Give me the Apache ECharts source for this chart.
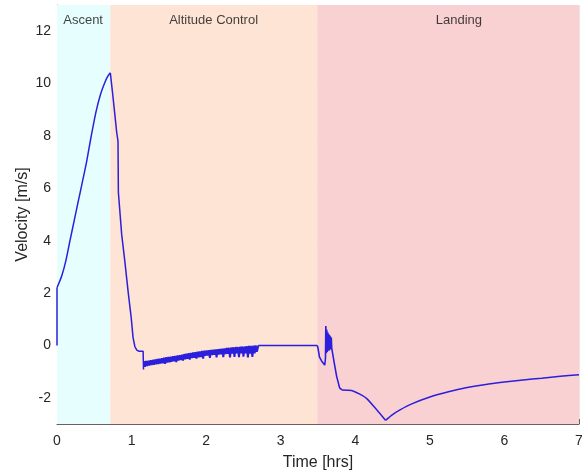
<!DOCTYPE html>
<html>
<head>
<meta charset="utf-8">
<script src="https://cdn.jsdelivr.net/npm/echarts@6/dist/echarts.min.js"></script>
<style>html,body{margin:0;padding:0;background:#fff;overflow:hidden}#c{width:582px;height:474px}</style>
</head>
<body>
<div id="c"></div>
<script>
// ---- data ----
const xTicks = [0, 1, 2, 3, 4, 5, 6, 7];
const yTicks = [-2, 0, 2, 4, 6, 8, 10, 12];

const phaseNames = ['Ascent', 'Altitude Control', 'Landing'];
const phaseStart = [0, 0.715, 3.49];
const phaseEnd = [0.715, 3.49, 7];
const phaseLabelT = [0.35, 2.1, 5.39];
const phaseLabelV = 12.4;

const launchJump = [[0, 0], [0, 2.2]];
const ascent = [
  [0, 2.2], [0.063, 2.65], [0.12, 3.25], [0.174, 4.0], [0.23, 4.76],
  [0.286, 5.52], [0.33, 6.1], [0.40, 7.06], [0.456, 7.95], [0.523, 8.92],
  [0.585, 9.6], [0.643, 10.05], [0.68, 10.27], [0.715, 10.41]
];
const descent = [
  [0.715, 10.41], [0.746, 9.62], [0.78, 8.7], [0.80, 8.15], [0.818, 7.8], [0.823, 5.85],
  [0.867, 4.25], [0.91, 3.2], [0.956, 2.0], [0.995, 1.06], [1.02, 0.3], [1.045, -0.05],
  [1.07, -0.18], [1.1, -0.22], [1.155, -0.22], [1.16, -0.92]
];
const hoverBand = [
  [1.165, -0.60], [1.18, -0.82], [1.195, -0.59], [1.21, -0.79], [1.225, -0.58], [1.24, -0.77],
  [1.255, -0.56], [1.27, -0.75], [1.285, -0.55], [1.30, -0.74], [1.315, -0.54], [1.33, -0.72],
  [1.345, -0.52], [1.36, -0.71], [1.375, -0.51], [1.39, -0.69], [1.405, -0.49], [1.42, -0.68],
  [1.435, -0.47], [1.45, -0.70], [1.465, -0.45], [1.48, -0.65], [1.495, -0.44], [1.51, -0.64],
  [1.525, -0.43], [1.54, -0.62], [1.555, -0.41], [1.57, -0.61], [1.585, -0.40], [1.60, -0.64],
  [1.615, -0.38], [1.63, -0.58], [1.645, -0.37], [1.66, -0.56], [1.675, -0.35], [1.69, -0.58],
  [1.705, -0.33], [1.72, -0.53], [1.735, -0.32], [1.75, -0.51], [1.765, -0.30], [1.78, -0.54],
  [1.795, -0.29], [1.81, -0.48], [1.825, -0.27], [1.84, -0.47], [1.855, -0.26], [1.87, -0.50],
  [1.885, -0.24], [1.90, -0.45], [1.915, -0.23], [1.93, -0.44], [1.945, -0.21], [1.96, -0.50],
  [1.975, -0.20], [1.99, -0.40], [2.005, -0.19], [2.02, -0.39], [2.035, -0.18], [2.05, -0.47],
  [2.065, -0.17], [2.08, -0.37], [2.095, -0.16], [2.11, -0.36], [2.125, -0.15], [2.14, -0.46],
  [2.155, -0.14], [2.17, -0.35], [2.185, -0.13], [2.20, -0.34], [2.215, -0.12], [2.23, -0.45],
  [2.245, -0.11], [2.26, -0.33], [2.275, -0.10], [2.29, -0.32], [2.305, -0.09], [2.32, -0.46],
  [2.335, -0.08], [2.35, -0.31], [2.365, -0.07], [2.38, -0.44], [2.395, -0.06], [2.41, -0.30],
  [2.425, -0.06], [2.44, -0.45], [2.455, -0.05], [2.47, -0.30], [2.485, -0.04], [2.50, -0.43],
  [2.515, -0.04], [2.53, -0.30], [2.545, -0.03], [2.56, -0.46], [2.575, -0.02], [2.59, -0.31],
  [2.605, -0.02], [2.62, -0.44], [2.635, -0.01], [2.65, -0.30], [2.665, 0.0], [2.68, -0.24],
  [2.70, 0.0]
];
const holdFlat = [[2.70, 0.0], [3.49, 0]];
const landingStart = [
  [3.49, 0], [3.5, -0.1], [3.52, -0.45], [3.55, -0.6], [3.59, -0.75], [3.6, -0.5], [3.605, 0.74],
  [3.612, -0.3], [3.618, 0.6], [3.624, -0.25], [3.63, 0.5], [3.636, -0.2], [3.642, 0.45],
  [3.648, -0.2], [3.654, 0.4], [3.66, -0.15], [3.666, 0.35], [3.672, -0.15], [3.678, 0.3],
  [3.684, -0.1], [3.69, -0.15], [3.72, -0.7], [3.75, -1.18], [3.79, -1.62], [3.82, -1.7]
];
const landingDescent = [
  [3.82, -1.7], [3.95, -1.72], [4.06, -1.86], [4.15, -2.02], [4.285, -2.45], [4.405, -2.86]
];
const landingRecovery = [
  [4.405, -2.86], [4.5, -2.64], [4.6, -2.46], [4.75, -2.24], [5.0, -1.97], [5.25, -1.77],
  [5.5, -1.61], [5.75, -1.49], [6.0, -1.40], [6.25, -1.32], [6.5, -1.25], [6.75, -1.18], [7.0, -1.12]
];

const phaseColors = ['#e6fffe', '#fde4d4', '#f9d1d3'];

// ---- chart ----
const chart = echarts.init(document.getElementById('c'), null, { renderer: 'canvas' });
const textColor = '#262626';
const gridColor = 'rgba(38,38,38,0.11)';
const lineColor = '#2b1fdc';

function velSeries(data, smooth, width) {
  return {
    type: 'line', z: 3, data: data, showSymbol: false, symbol: 'none',
    smooth: smooth ? 0.25 : false,
    lineStyle: { color: lineColor, width: width || 1.5 }, silent: true,
    label: { show: false }, endLabel: { show: false }
  };
}

chart.setOption({
  animation: false,
  backgroundColor: '#ffffff',
  grid: { left: 57, right: 3, top: 5, bottom: 50, containLabel: false, outerBoundsMode: 'none' },
  xAxis: {
    type: 'value', min: 0, max: 7, interval: 1,
    name: 'Time [hrs]', nameLocation: 'middle', nameGap: 31,
    nameTextStyle: { fontFamily: 'Liberation Sans', fontSize: 16, color: textColor },
    axisLine: { show: true, onZero: false, lineStyle: { color: '#6e5e5e', width: 1 } },
    axisTick: { show: true, inside: true, length: 5, lineStyle: { color: '#6e5e5e' } },
    axisLabel: { fontFamily: 'Liberation Sans', fontSize: 14, color: textColor, margin: 10 },
    splitLine: { show: true, lineStyle: { color: gridColor, width: 1 } }
  },
  yAxis: {
    type: 'value', min: -3, max: 13,
    name: 'Velocity [m/s]', nameLocation: 'middle', nameGap: 26, nameMoveOverlap: false,
    nameTextStyle: { fontFamily: 'Liberation Sans', fontSize: 16, color: textColor },
    axisLine: { show: true, onZero: false, lineStyle: { color: '#8a9595', width: 1 } },
    axisTick: { show: true, inside: true, length: 5, customValues: yTicks, lineStyle: { color: '#8a9595' } },
    axisLabel: { fontFamily: 'Liberation Sans', fontSize: 14, color: textColor, margin: 6, customValues: yTicks },
    splitLine: { show: true, lineStyle: { color: gridColor, width: 1 } }
  },
  series: [
    {
      type: 'line', z: -1, data: [], silent: true,
      markArea: {
        silent: true,
        label: { show: false },
        data: phaseNames.map((n, i) => [
          { xAxis: phaseStart[i], yAxis: -3, itemStyle: { color: phaseColors[i] } },
          { xAxis: phaseEnd[i], yAxis: 13 }
        ])
      }
    },
    {
      type: 'scatter', z: 2, silent: true, symbolSize: 0,
      data: phaseNames.map((n, i) => ({ value: [phaseLabelT[i], phaseLabelV], name: n })),
      label: {
        show: true, position: 'inside', formatter: p => p.name,
        fontFamily: 'Liberation Sans', fontSize: 13, color: '#111111'
      }
    },
    velSeries(launchJump, false),
    velSeries(ascent, true),
    velSeries(descent, false),
    velSeries(hoverBand, false, 2),
    velSeries(holdFlat, false),
    velSeries(landingStart, false, 1.6),
    velSeries(landingDescent, true),
    velSeries(landingRecovery, true)
  ]
});
</script>
</body>
</html>
